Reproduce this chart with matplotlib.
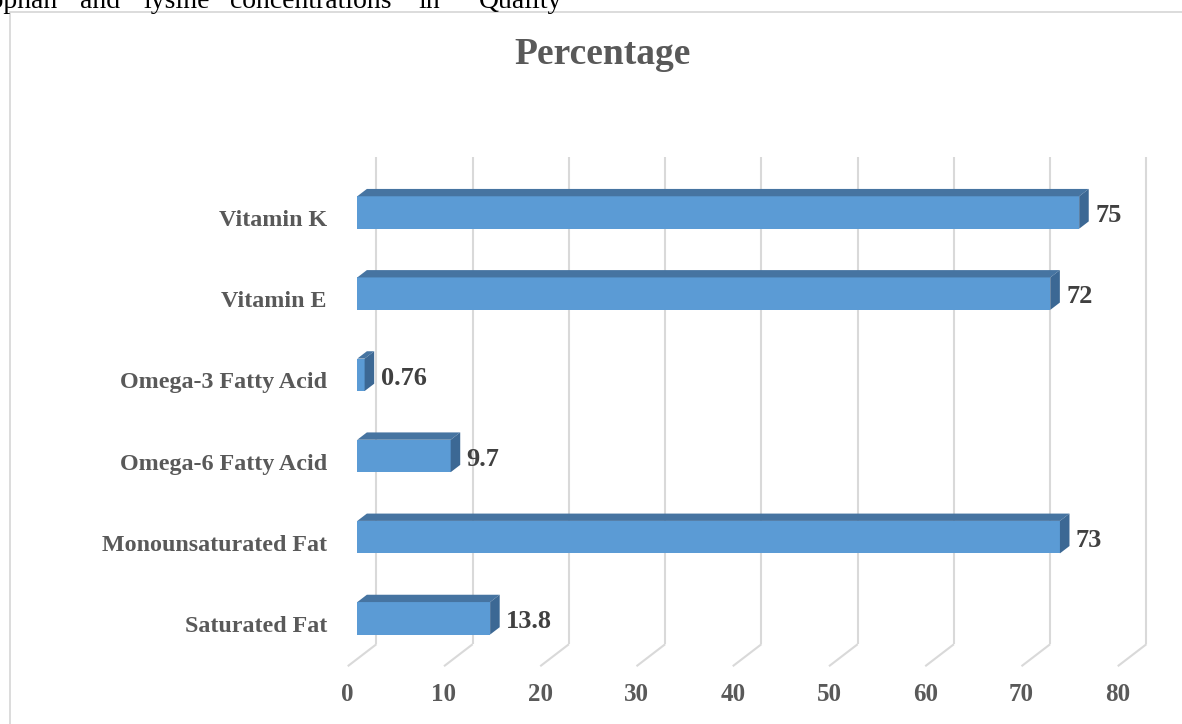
import matplotlib
matplotlib.use("Agg")
import matplotlib.pyplot as plt
from matplotlib.patches import Polygon, Rectangle

categories = ["Saturated Fat", "Monounsaturated Fat", "Omega-6 Fatty Acid",
              "Omega-3 Fatty Acid", "Vitamin E", "Vitamin K"]
values = [13.8, 73, 9.7, 0.76, 72, 75]
value_labels = ["13.8", "73", "9.7", "0.76", "72", "75"]
ticks = [0, 10, 20, 30, 40, 50, 60, 70, 80]
title = "Percentage"
doc_words = ["tophan", "and", "lysine", "concentrations", "in", "Quality"]
doc_word_x = [-17, 80, 143, 230, 418, 479]

W, H = 1182, 724
# pixel mapping of the front plane of the bars
X0, K = 357.3, 9.625      # px of value 0, px per unit
C0, CU = 618.3, 81.16     # px of category 0, px per category step
DX, DY = 2.98, 0.271      # full depth of the 3D box in data units
BAR_H = 0.40

plt.rcParams['font.family'] = ['Liberation Serif', 'DejaVu Serif']

fig = plt.figure(figsize=(W / 100, H / 100), dpi=100)
ax = fig.add_axes([0, 0, 1, 1])
ax.set_xlim(-X0 / K, (W - X0) / K)
ax.set_ylim((C0 - H) / CU, C0 / CU)
ax.axis("off")


def proj(v, c, d):
    # d = 0 front, 1 back; bars sit between 1/3 and 2/3
    return v + (d - 1 / 3) * DX, c + (d - 1 / 3) * DY


grid_col = "#d9d9d9"
for t in ticks:
    bx0, by0 = proj(t, -0.5, 1)
    bx1, by1 = proj(t, 5.5, 1)
    fx, fy = proj(t, -0.5, 0)
    ax.plot([bx0, bx1], [by0, by1], color=grid_col, lw=1.5, zorder=1,
            solid_capstyle="butt")
    ax.plot([fx, bx0], [fy, by0], color=grid_col, lw=1.5, zorder=1,
            solid_capstyle="butt")
    ax.text(fx, -1.015, str(t), ha="center", va="baseline", fontsize=18,
            fontweight="bold", color="#595959")

dx, dy = DX / 3, DY / 3
for i, v in enumerate(values):
    lo, hi = i - BAR_H / 2, i + BAR_H / 2
    ax.add_patch(Rectangle((0, lo), v, BAR_H, facecolor="#5b9bd5",
                           edgecolor="none", zorder=3))
    ax.add_patch(Polygon([(0, hi), (v, hi), (v + dx, hi + dy), (dx, hi + dy)],
                         closed=True, facecolor="#4674a1", edgecolor="none",
                         zorder=3))
    ax.add_patch(Polygon([(v, lo), (v + dx, lo + dy), (v + dx, hi + dy), (v, hi)],
                         closed=True, facecolor="#3c6894", edgecolor="none",
                         zorder=3))
    ax.text(v + 1.66, i - 0.12, value_labels[i], ha="left", va="baseline",
            fontsize=19, fontweight="bold", color="#404040", zorder=4)
    ax.text(-3.15, i - 0.167, categories[i], ha="right", va="baseline",
            fontsize=17.3, fontweight="bold", color="#595959")

# chart frame
fig.add_artist(Rectangle((10 / W, -0.05), 1.1, 1 - 12 / H + 0.05,
                         transform=fig.transFigure, facecolor="none",
                         edgecolor="#d9d9d9", lw=1.3))

fig.text(602.5 / W, 1 - 64.3 / H, title, ha="center", va="baseline",
         fontsize=27, fontweight="bold", color="#595959")

# body text of the page, cut at the top like in the source page
for word, x in zip(doc_words, doc_word_x):
    fig.text(x / W, 1 - 8.5 / H, word, ha="left", va="baseline",
             fontsize=20, color="black")

fig.savefig("out.png", dpi=100)
